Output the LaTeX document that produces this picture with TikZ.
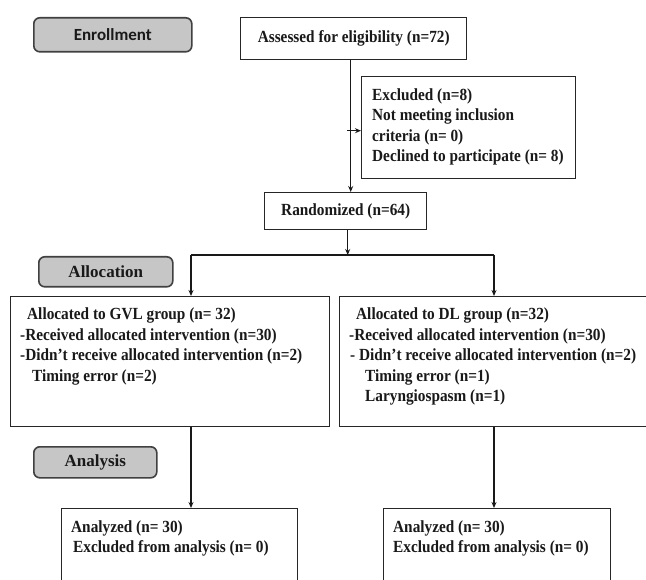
\documentclass[tikz,border=0pt]{standalone}
\usepackage{fontspec}
\setmainfont{Liberation Serif}
\newfontfamily\enrfont{Carlito}
\usetikzlibrary{arrows.meta}
\newcommand{\sqz}[1]{\scalebox{0.9}[1]{#1}}
\begin{document}
\begin{tikzpicture}[x=1pt,y=-1pt,
  box/.style={draw=black!85, line width=1.4pt, rectangle, inner sep=0pt, anchor=north west},
  phase/.style={draw=black!75, fill=gray!45, line width=1.6pt, rounded corners=6pt, inner sep=0pt, anchor=north west},
  txt/.style={anchor=base west, inner sep=0pt, font=\fontsize{17pt}{20pt}\selectfont\bfseries, text=black!90},
  ctxt/.style={inner sep=0pt, font=\fontsize{17pt}{20pt}\selectfont\bfseries, text=black!90},
  lbl/.style={inner sep=0pt, font=\fontsize{17pt}{20pt}\selectfont\bfseries, text=black!90},
  arr/.style={-{Stealth[length=6pt,width=5pt]}, line width=1.1pt, draw=black!90},
  ln/.style={line width=1.1pt, draw=black!90}]
\useasboundingbox (0,0) rectangle (646,580);
\fill[white] (0,0) rectangle (646,580);
\clip (0,0) rectangle (646,580);

% phase labels
\node[phase, minimum width=158pt, minimum height=34pt] (enr) at (33,17) {};
\node[inner sep=0pt, font=\enrfont\fontsize{17pt}{20pt}\selectfont\bfseries, text=black!90] (enrt) at (enr.center) {Enrollment};
\node[phase, minimum width=134pt, minimum height=30pt] (alloc) at (38,256) {};
\node[lbl] (alloct) at (alloc.center) {Allocation};
\node[phase, minimum width=123pt, minimum height=31pt] (anal) at (33,446) {};
\node[lbl] (analt) at (anal.center) {Analysis};

% boxes
\node[box, minimum width=226pt, minimum height=42pt] (assess) at (240,17) {};
\node[ctxt] (assesst) at (assess.center) {\sqz{Assessed for eligibility (n=72)}};
\node[box, minimum width=214pt, minimum height=102pt] (excl) at (361,76) {};
\node[txt] (e1) at (372,101) {\sqz{Excluded (n=8)}};
\node[txt] (e2) at (372,121) {\sqz{Not meeting inclusion}};
\node[txt] (e3) at (372,142) {\sqz{criteria (n= 0)}};
\node[txt] (e4) at (372,162) {\sqz{Declined to participate (n= 8)}};
\node[box, minimum width=162pt, minimum height=37pt] (rand) at (264,192) {};
\node[ctxt] (randt) at (rand.center) {\sqz{Randomized (n=64)}};

\node[box, minimum width=319pt, minimum height=130pt] (gvl) at (10,296) {};
\node[txt] (g1) at (27,320) {\sqz{Allocated to GVL group (n= 32)}};
\node[txt] (g2) at (20,340.5) {\sqz{-Received allocated intervention (n=30)}};
\node[txt] (g3) at (20,361) {\sqz{-Didn’t receive allocated intervention (n=2)}};
\node[txt] (g4) at (32,381.5) {\sqz{Timing error (n=2)}};

\node[box, minimum width=320pt, minimum height=130pt] (dl) at (339,296) {};
\node[txt] (d1) at (356,320) {\sqz{Allocated to DL group (n=32)}};
\node[txt] (d2) at (349,340.5) {\sqz{-Received allocated intervention (n=30)}};
\node[txt] (d3) at (350,361) {\sqz{- Didn’t receive allocated intervention (n=2)}};
\node[txt] (d4) at (365,381.5) {\sqz{Timing error (n=1)}};
\node[txt] (d5) at (365,402) {\sqz{Laryngiospasm (n=1)}};

\node[box, minimum width=236pt, minimum height=100pt] (an1) at (61,508) {};
\node[txt] (a1) at (71,532) {\sqz{Analyzed (n= 30)}};
\node[txt] (a2) at (73,552) {\sqz{Excluded from analysis (n= 0)}};
\node[box, minimum width=227pt, minimum height=100pt] (an2) at (383,508) {};
\node[txt] (b1) at (393,532) {\sqz{Analyzed (n= 30)}};
\node[txt] (b2) at (393,552) {\sqz{Excluded from analysis (n= 0)}};

% connectors
\coordinate (sl) at (191,255);
\coordinate (sr) at (494,255);
\draw[arr] ([xshift=-3pt]assess.south) -- ([xshift=-3pt]assess.south |- rand.north);
\draw[arr] ([xshift=-14pt,yshift=-3pt]excl.west) -- ([yshift=-3pt]excl.west);
\draw[arr] ([xshift=2pt]rand.south) -- ([xshift=2pt]rand.south |- sl);
\draw[ln] (sl) -- (sr);
\draw[arr] (sl) -- (sl |- gvl.north);
\draw[arr] (sr) -- (sr |- dl.north);
\draw[arr] (sl |- gvl.south) -- (sl |- an1.north);
\draw[arr] (sr |- dl.south) -- (sr |- an2.north);
\end{tikzpicture}
\end{document}
